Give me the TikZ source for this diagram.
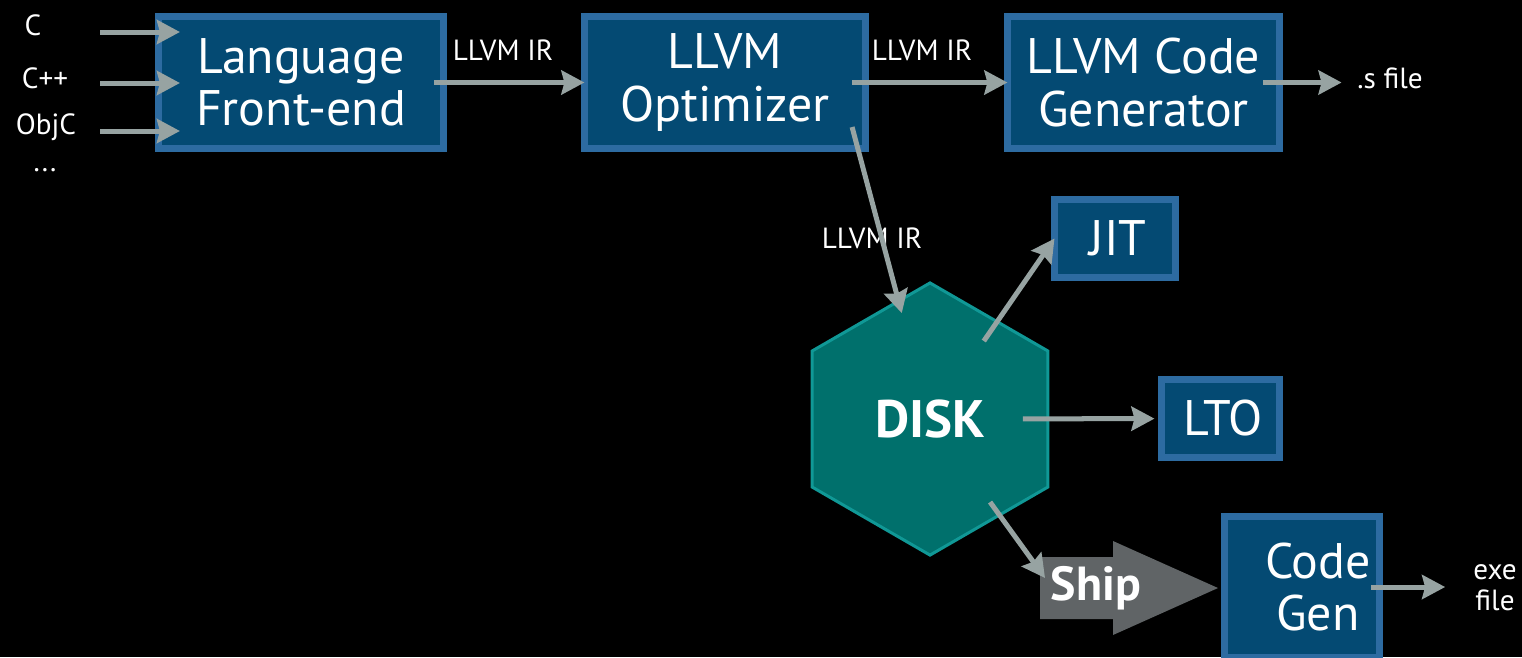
\documentclass[tikz,border=0pt]{standalone}
\usepackage{fontspec}
\setmainfont{PT Sans}
\usetikzlibrary{positioning,calc}
\usetikzlibrary{arrows.meta,shapes.geometric}
\definecolor{BoxBlue}{RGB}{4,74,115}
\definecolor{BoxRim}{RGB}{45,107,161}
\definecolor{DiskTeal}{RGB}{0,112,108}
\definecolor{DiskRim}{RGB}{16,152,150}
\definecolor{FlowGray}{RGB}{151,163,162}
\definecolor{ShipGray}{RGB}{96,100,102}
\tikzset{
  stage/.style={rectangle,draw=BoxRim,fill=BoxBlue,line width=0.07cm,outer sep=0pt,inner sep=0pt,
    text=white,align=center,font=\fontsize{14.2}{14.8}\selectfont},
  flow/.style={draw=FlowGray,line width=0.05cm,-{Stealth[length=0.23cm,width=0.24cm,inset=0.03cm]},
    shorten <=-0.13cm},
  lab/.style={text=white,align=center,inner sep=1pt,font=\fontsize{8.3}{8.8}\selectfont},
}
\tikzset{disk/.style={regular polygon,regular polygon sides=6,shape border rotate=30,minimum size=2.72cm,
  draw=DiskRim,fill=DiskTeal,line width=0.03cm,text=white,font=\fontsize{15}{15}\selectfont\bfseries}}

\begin{document}
\begin{tikzpicture}[x=0.01cm,y=-0.01cm]
\useasboundingbox (0,0) rectangle (1522,657);
\clip (0,0) rectangle (1522,657);
\fill[black] (0,0) rectangle (1522,657);
% pipeline boxes
\node[stage,minimum width=2.85cm,minimum height=1.32cm] (fe) at (301,82.5) {Language\\Front-end};
\node[stage,minimum width=2.81cm,minimum height=1.32cm] (opt) at (725,82.5) {LLVM\\Optimizer};
\node[stage,minimum width=2.72cm,minimum height=1.32cm] (cg) at (1143.5,82.5) {LLVM Code\\Generator};
\node[stage,minimum width=1.21cm,minimum height=0.78cm] (jit) at (1115,238.5) {\hspace*{0.06cm}JIT};
\node[stage,minimum width=1.18cm,minimum height=0.78cm] (lto) at (1220.5,418.5) {\hspace*{0.06cm}LTO};
\node[stage,minimum width=1.55cm,minimum height=1.41cm] (gen) at (1302,587) {\hspace*{0.32cm}Code\\\hspace*{0.32cm}Gen};
\node[disk] (disk) at (930,419) {DISK};
% ship arrow
\fill[ShipGray] (1040,557) -- (1113,557) -- (1113,541) -- (1218,588) -- (1113,635) -- (1113,619) -- (1040,619) -- cycle;
\node[text=white,font=\fontsize{13.6}{13.6}\selectfont\bfseries] (ship) at (1096,588) {Ship};
\coordinate (shiptail) at (1045,578);
% inputs
\node[lab] (c) at (33,25) {C};
\node[lab] (cpp) at (45,78) {C++};
\node[lab] (objc) at (46,127) {ObjC};
\node[lab] (more) at (45,170) {...};
\coordinate (cin) at (100,32);
\coordinate (cppin) at (100,83);
\coordinate (objcin) at (100,131);
\draw[flow,shorten <=0pt,shorten >=-0.215cm] (cin) -- (cin -| fe.west);
\draw[flow,shorten <=0pt,shorten >=-0.215cm] (cppin) -- (cppin -| fe.west);
\draw[flow,shorten <=0pt,shorten >=-0.215cm] (objcin) -- (objcin -| fe.west);
% outputs
\node[lab] (sfile) at (1390,78) {.s file};
\node[lab] (exe) at (1495,588) {exe\\file};
% IR labels
\node[lab] (ir1) at (503,50) {LLVM IR};
\node[lab] (ir2) at (922,50) {LLVM IR};
\node[lab] (ir3) at (872,238) {LLVM IR};
% connectors
\draw[flow,shorten <=-0.095cm] (fe) -- (opt);
\draw[flow,shorten <=-0.135cm] (opt) -- (cg);
\draw[flow,shorten <=-0.165cm,shorten >=0.115cm] (cg) -- (cg -| sfile.west);
\draw[flow,shorten <=0pt,shorten >=-0.14cm] ([xshift=-0.135cm,yshift=0.215cm]opt.south east) -- (disk);
\draw[flow,shorten <=-0.25cm] (disk) -- (jit.west);
\draw[flow,shorten <=-0.265cm,shorten >=0.07cm] (disk) -- (lto);
\draw[flow,shorten <=-0.175cm] (disk) -- (shiptail);
\draw[flow,shorten <=-0.085cm,shorten >=0.24cm] (gen) -- (gen -| exe.west);
\end{tikzpicture}
\end{document}
